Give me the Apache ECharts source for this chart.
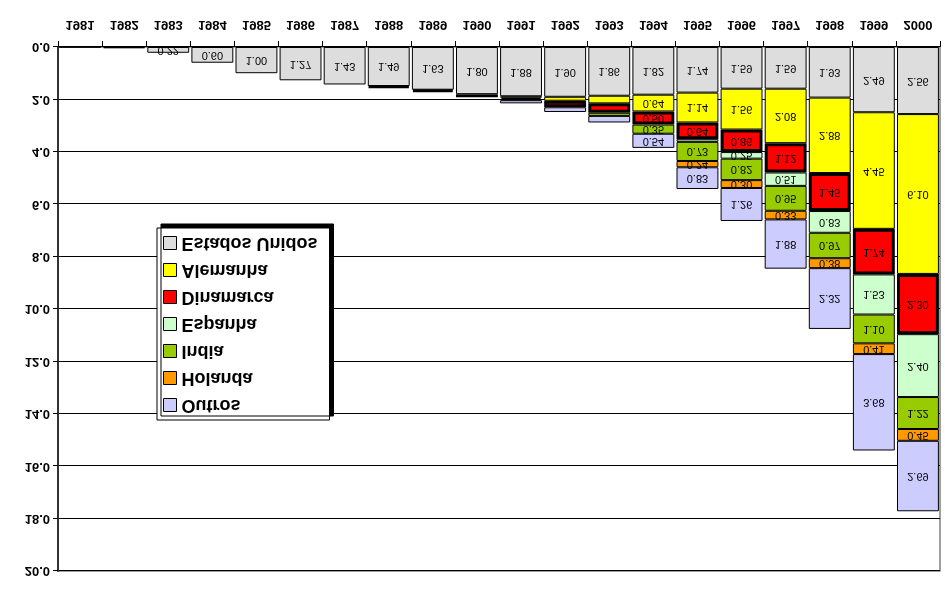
<!DOCTYPE html>
<html>
<head>
<meta charset="utf-8">
<script src="https://cdn.jsdelivr.net/npm/echarts@6/dist/echarts.min.js"></script>
<style>
html,body{margin:0;padding:0;background:#fff;}
#chart{position:absolute;left:0;top:0;width:945px;height:592px;transform:scaleY(-1);}
</style>
</head>
<body>
<div id="chart"></div>
<script>
// Reference picture is drawn vertically mirrored; chart is built normally and flipped with CSS.
var years = ['1981','1982','1983','1984','1985','1986','1987','1988','1989','1990','1991','1992','1993','1994','1995','1996','1997','1998','1999','2000'];
var estadosUnidos = [0.01,0.05,0.22,0.60,1.00,1.27,1.43,1.49,1.63,1.80,1.88,1.90,1.86,1.82,1.74,1.59,1.59,1.93,2.49,2.56];
var alemanha      = [null,null,null,null,null,null,null,null,null,null,0.05,0.15,0.29,0.64,1.14,1.56,2.08,2.88,4.45,6.10];
var dinamarca     = [null,null,null,null,null,null,null,0.06,0.08,0.12,0.10,0.25,0.36,0.50,0.64,0.86,1.12,1.45,1.74,2.30];
var espanha       = [null,null,null,null,null,null,null,null,null,null,null,null,null,null,0.10,0.25,0.51,0.83,1.53,2.40];
var india         = [null,null,null,null,null,null,null,null,null,null,null,null,0.12,0.35,0.73,0.82,0.95,0.97,1.10,1.22];
var holanda       = [null,null,null,null,null,null,null,null,null,null,null,null,null,null,0.24,0.30,0.33,0.38,0.41,0.45];
var outros        = [null,null,null,null,null,null,null,null,null,null,0.12,0.18,0.25,0.54,0.83,1.26,1.88,2.32,3.68,2.69];
var yTicks = [0,2,4,6,8,10,12,14,16,18,20];

var FONT = "'Liberation Sans', Arial, sans-serif";

function mk(name, data, color, isUS, thick) {
  return {
    name: name,
    type: 'bar',
    stack: 'total',
    data: data,
    barCategoryGap: '5%',
    itemStyle: { color: color, borderColor: '#000', borderWidth: thick ? 3 : 1 },
    label: {
      show: true,
      position: 'inside',
      color: '#000',
      fontFamily: FONT,
      fontSize: 11,
      formatter: function (p) {
        var v = p.value;
        if (v == null) return '';
        var yr = parseInt(p.name, 10);
        if (isUS) return v >= 0.2 ? v.toFixed(2) : '';
        return (yr >= 1994 && v >= 0.2) ? v.toFixed(2) : '';
      }
    },
    emphasis: { disabled: true }
  };
}

var chart = echarts.init(document.getElementById('chart'), null, { renderer: 'canvas' });
chart.setOption({
  animation: false,
  backgroundColor: '#fff',
  grid: { left: 58, right: 5, top: 21, bottom: 47, show: true, borderColor: '#808080', borderWidth: 1.5, backgroundColor: 'transparent' },
  legend: {
    orient: 'vertical',
    left: 157,
    top: 172,
    padding: [6, 12, 6, 6],
    itemWidth: 13,
    itemHeight: 13,
    itemGap: 9,
    icon: 'rect',
    backgroundColor: '#fff',
    borderColor: '#000',
    borderWidth: 1,
    shadowColor: '#000',
    shadowBlur: 0,
    shadowOffsetX: 4,
    shadowOffsetY: 4,
    itemStyle: { borderWidth: 1, borderColor: '#000' },
    textStyle: { fontFamily: FONT, fontSize: 18, fontWeight: 'bold', color: '#000' },
    data: ['Outros', 'Holanda', 'India', 'Espanha', 'Dinamarca', 'Alemanha', 'Estados Unidos']
  },
  xAxis: {
    type: 'category',
    data: years,
    axisLine: { show: true, lineStyle: { color: '#000', width: 1 } },
    axisTick: { show: true, length: 6, lineStyle: { color: '#000' } },
    axisLabel: { fontFamily: FONT, fontSize: 13, fontWeight: 'bold', color: '#000', margin: 16 }
  },
  yAxis: {
    type: 'value',
    min: yTicks[0],
    max: yTicks[yTicks.length - 1],
    interval: 2,
    axisLine: { show: true, lineStyle: { color: '#333', width: 2 } },
    axisTick: { show: true, length: 5, lineStyle: { color: '#000' } },
    splitLine: { show: true, lineStyle: { color: '#000', width: 1 } },
    axisLabel: { fontFamily: FONT, fontSize: 13, fontWeight: 'bold', color: '#000', margin: 8,
      formatter: function (v) { return v.toFixed(1); } }
  },
  series: [
    mk('Estados Unidos', estadosUnidos, '#DDDDDD', true, false),
    mk('Alemanha', alemanha, '#FFFF00', false, false),
    mk('Dinamarca', dinamarca, '#FF0000', false, true),
    mk('Espanha', espanha, '#CCFFCC', false, false),
    mk('India', india, '#99CC00', false, false),
    mk('Holanda', holanda, '#FF9900', false, false),
    mk('Outros', outros, '#CCCCFF', false, false)
  ]
});
</script>
</body>
</html>
